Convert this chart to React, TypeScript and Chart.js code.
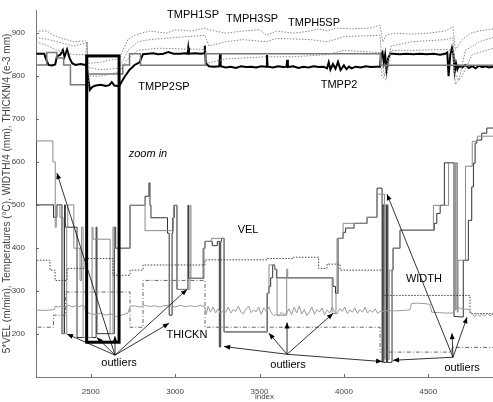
import React, { useEffect, useRef } from "react";
import { Chart, registerables } from "chart.js";
Chart.register(...registerables);

const X_MIN = 2176, X_MAX = 4883, Y_MIN = 99, Y_MAX = 954;
const X_TICKS = [2500, 3000, 3500, 4000, 4500];
const Y_TICKS = [200, 300, 400, 500, 600, 700, 800, 900];

const TMPP2: number[][] = [[2176,852],[2225,852],[2235,840],[2250,826],[2270,825],[2290,827],[2300,846],[2320,850],[2335,861],[2345,845],[2360,862],[2375,842],[2390,830],[2410,826],[2440,828],[2470,826],[2478,822],[2485,795],[2495,768],[2510,775],[2530,778],[2560,780],[2590,777],[2610,779],[2625,786],[2640,778],[2660,777],[2672,779],[2685,788],[2700,798],[2715,806],[2730,815],[2745,820],[2760,826],[2775,829],[2790,832],[2800,842],[2810,851],[2840,852],[2870,853],[2900,851],[2930,852],[2960,856],[2990,852],[3030,852],[3060,853],[3074,852],[3078,866],[3082,852],[3120,853],[3150,852],[3172,853],[3176,871],[3182,830],[3200,823],[3230,822],[3262,823],[3266,852],[3270,823],[3300,820],[3330,822],[3360,819],[3390,823],[3420,821],[3450,822],[3480,820],[3510,823],[3540,822],[3544,849],[3548,822],[3580,820],[3610,823],[3640,821],[3660,822],[3664,838],[3668,821],[3700,823],[3730,819],[3760,822],[3790,820],[3820,823],[3850,821],[3880,822],[3900,818],[3910,832],[3920,815],[3935,828],[3950,817],[3965,833],[3980,814],[4000,825],[4015,816],[4030,822],[4045,818],[4070,822],[4100,820],[4130,823],[4160,821],[4190,822],[4214,822],[4220,852],[4228,856],[4236,832],[4244,850],[4252,815],[4262,842],[4275,852],[4290,852],[4330,851],[4370,852],[4410,851],[4450,852],[4490,851],[4530,852],[4570,850],[4600,852],[4612,855],[4620,800],[4630,850],[4640,866],[4648,852],[4656,810],[4664,830],[4672,816],[4680,824],[4700,820],[4720,826],[4740,819],[4760,823],[4780,818],[4800,824],[4820,821],[4840,823],[4860,820],[4883,822]];

const TMPP2SP: number[][] = [[2176,852],[2240,826],[2300,855],[2340,842],[2380,826],[2480,780],[2690,805],[2730,826],[2795,852],[3180,825],[4216,852],[4650,825],[4883,825]];

const TMPH1SP: number[][] = [[2176,905],[2240,905],[2280,895],[2330,888],[2400,880],[2470,882],[2478,880],[2485,830],[2560,832],[2620,838],[2668,840],[2720,885],[2760,895],[2800,900],[2850,905],[2950,900],[3000,908],[3100,905],[3177,912],[3200,908],[3300,900],[3400,905],[3500,908],[3540,895],[3600,905],[3700,900],[3800,905],[3850,910],[3900,905],[3950,912],[4050,910],[4150,912],[4214,918],[4230,880],[4250,895],[4300,900],[4400,898],[4500,900],[4600,905],[4646,915],[4660,860],[4700,885],[4750,900],[4800,905],[4883,910]];

const TMPH3SP: number[][] = [[2176,890],[2250,885],[2300,880],[2400,870],[2478,878],[2485,820],[2560,815],[2668,818],[2720,860],[2780,880],[2850,885],[3000,890],[3177,895],[3200,870],[3300,880],[3400,885],[3540,880],[3600,888],[3800,885],[3900,880],[4000,892],[4214,895],[4225,830],[4240,800],[4280,870],[4400,880],[4600,885],[4646,890],[4655,810],[4680,790],[4720,860],[4800,880],[4883,890]];

const TMPH5SP: number[][] = [[2176,880],[2250,870],[2300,860],[2400,850],[2470,850],[2478,880],[2482,745],[2490,800],[2560,800],[2668,810],[2720,840],[2780,860],[2900,865],[3177,862],[3190,830],[3300,840],[3540,845],[3700,845],[3900,850],[4000,860],[4214,855],[4225,800],[4250,790],[4280,860],[4400,860],[4600,862],[4646,860],[4660,780],[4700,800],[4760,850],[4883,865]];

const VEL: number[][] = [[2176,649],[2280,500],[2300,471],[2330,500],[2345,200],[2350,500],[2419,448],[2532,191],[2537,448],[2640,200],[2648,448],[2733,399],[2822,499],[2845,520],[2851,551],[2857,499],[2955,470],[2965,434],[2982,243],[2986,434],[2995,470],[3011,499],[3076,303],[3080,499],[3170,329],[3177,399],[3220,415],[3250,405],[3262,415],[3270,169],[3274,415],[3290,422],[3546,204],[3556,294],[3566,310],[3578,330],[3590,360],[3600,350],[3935,330],[3950,310],[3965,294],[3995,422],[4010,436],[4060,446],[4137,457],[4196,471],[4226,539],[4230,133],[4236,500],[4252,133],[4258,500],[4285,133],[4291,348],[4332,399],[4535,441],[4550,457],[4570,480],[4595,499],[4652,598],[4676,240],[4707,239],[4737,371],[4757,464],[4767,542],[4777,597],[4787,644],[4816,651],[4846,667],[4865,679],[4883,679]];

const VEL_RAW: number[][] = [[2176,649],[2276,649],[2290,600],[2296,448],[2318,500],[2336,471],[2358,200],[2364,448],[2400,500],[2437,399],[2446,324],[2455,448],[2508,191],[2514,448],[2615,420],[2632,200],[2640,448],[2733,399],[2822,499],[2960,440],[2990,440],[3011,499],[3088,303],[3094,499],[3165,329],[3177,399],[3215,415],[3290,422],[3544,204],[3556,294],[3590,360],[3604,350],[3661,243],[3667,350],[3930,330],[3953,247],[3959,294],[3995,422],[4137,457],[4196,471],[4240,525],[4245,140],[4262,500],[4268,140],[4291,348],[4332,399],[4530,441],[4620,499],[4646,598],[4660,598],[4665,255],[4672,598],[4676,250],[4720,371],[4760,590],[4790,648],[4883,660]];

const WIDTH: number[][] = [[2176,324],[2259,371],[2289,348],[2360,324],[2466,352],[2632,375],[2733,336],[2810,348],[3177,360],[3544,372],[3700,375],[3850,378],[3900,352],[3977,362],[4232,348],[4747,289],[4788,247],[4883,247]];

const THICKN: number[][] = [[2176,177],[2280,215],[2350,243],[2733,297],[2810,215],[3177,324],[4214,215],[4640,157],[4700,168],[4883,168]];

const TEMP: number[][] = [[2176,255],[2230,254],[2285,256],[2290,264],[2310,262],[2330,265],[2350,261],[2370,266],[2390,262],[2410,265],[2430,263],[2450,266],[2466,262],[2470,250],[2500,247],[2530,244],[2560,248],[2590,243],[2620,246],[2650,240],[2690,244],[2720,248],[2733,263],[2760,265],[2790,262],[2820,266],[2850,263],[2880,265],[2910,262],[2940,266],[2970,264],[3000,262],[3030,266],[3060,263],[3090,265],[3120,263],[3150,266],[3177,262],[3185,245],[3195,264],[3210,250],[3225,262],[3240,248],[3255,258],[3270,246],[3285,254],[3300,250],[3315,262],[3330,248],[3345,256],[3360,252],[3375,264],[3390,250],[3405,246],[3420,258],[3435,264],[3450,249],[3465,255],[3480,251],[3495,262],[3510,245],[3525,260],[3540,252],[3555,262],[3570,248],[3585,242],[3600,245],[3615,241],[3630,250],[3645,244],[3660,247],[3675,258],[3690,244],[3705,262],[3720,248],[3735,264],[3750,246],[3765,256],[3780,242],[3795,250],[3810,262],[3825,245],[3840,256],[3855,250],[3870,260],[3885,244],[3900,255],[3915,248],[3930,262],[3945,250],[3960,246],[3975,258],[3990,252],[4005,262],[4020,247],[4035,255],[4050,250],[4065,260],[4080,247],[4095,256],[4110,250],[4125,261],[4140,248],[4155,255],[4170,250],[4185,258],[4200,247],[4214,252],[4232,252],[4260,254],[4300,253],[4390,255],[4400,270],[4430,271],[4480,270],[4510,268],[4520,250],[4560,249],[4600,248],[4646,248],[4660,262],[4700,258],[4740,256],[4760,246],[4775,240],[4790,248],[4805,240],[4820,246],[4835,241],[4850,247],[4865,242],[4883,245]];

// annotations (data coordinates)
const ZOOM_BOX = [2476, 180, 2668, 847];
const LABELS: [string, number, number, boolean][] = [
  ["TMPH1SP", 3106, 943, false], ["TMPH3SP", 3456, 933, false], ["TMPH5SP", 3823, 924, false],
  ["TMPP2SP", 2934, 775, false], ["TMPP2", 3971, 779, false], ["zoom in", 2839, 618, true],
  ["VEL", 3432, 441, false], ["THICKN", 3070, 196, false], ["WIDTH", 4474, 327, false],
  ["outliers", 2668, 131, false], ["outliers", 3669, 128, false], ["outliers", 4700, 121, false],
];
const ARROWS: number[][] = [
  [2644,150,2360,199],[2644,150,2300,574],[2644,150,2537,191],[2644,150,2644,194],[2644,150,2964,224],[2644,150,3070,303],
  [3663,152,3556,201],[3663,152,3663,226],[3663,152,3935,247],[3663,152,3290,170],[3663,152,4226,135],
  [4646,145,4291,138],[4646,145,4255,525],[4646,145,4640,201],[4646,145,4729,238],
];

const pts = (a: number[][]) => a.map(([x, y]) => ({ x, y }));

const annotPlugin = {
  id: "annot",
  afterDatasetsDraw(chart: any) {
    const { ctx, scales } = chart;
    const xs = scales.x, ys = scales.y;
    const X = (v: number) => xs.getPixelForValue(v);
    const Y = (v: number) => ys.getPixelForValue(v);
    ctx.save();
    ctx.strokeStyle = "#000";
    ctx.lineWidth = 3;
    ctx.strokeRect(X(ZOOM_BOX[0]), Y(ZOOM_BOX[3]), X(ZOOM_BOX[2]) - X(ZOOM_BOX[0]), Y(ZOOM_BOX[1]) - Y(ZOOM_BOX[3]));
    ctx.lineWidth = 0.8;
    ctx.fillStyle = "#000";
    for (const [fx, fy, tx, ty] of ARROWS) {
      const x1 = X(fx), y1 = Y(fy), x2 = X(tx), y2 = Y(ty);
      ctx.beginPath(); ctx.moveTo(x1, y1); ctx.lineTo(x2, y2); ctx.stroke();
      const ang = Math.atan2(y2 - y1, x2 - x1);
      const L = 6, W = 2.5;
      ctx.beginPath();
      ctx.moveTo(x2, y2);
      ctx.lineTo(x2 - L * Math.cos(ang) + W * Math.sin(ang), y2 - L * Math.sin(ang) - W * Math.cos(ang));
      ctx.lineTo(x2 - L * Math.cos(ang) - W * Math.sin(ang), y2 - L * Math.sin(ang) + W * Math.cos(ang));
      ctx.closePath(); ctx.fill();
    }
    ctx.textAlign = "center";
    ctx.textBaseline = "middle";
    for (const [t, lx, ly, it] of LABELS) {
      ctx.font = (it ? "italic " : "") + '11px "Liberation Sans", Arial, sans-serif';
      ctx.fillText(t, X(lx), Y(ly));
    }
    ctx.strokeStyle = "#666"; ctx.lineWidth = 1;
    const ca = chart.chartArea;
    for (const t of X_TICKS) { const px = Math.round(X(t)) + 0.5; ctx.beginPath(); ctx.moveTo(px, ca.bottom); ctx.lineTo(px, ca.bottom - 3); ctx.stroke(); }
    for (const t of Y_TICKS) { const py = Math.round(Y(t)) + 0.5; ctx.beginPath(); ctx.moveTo(ca.left, py); ctx.lineTo(ca.left + 3, py); ctx.stroke(); }
    ctx.restore();
  },
};

export default function App() {
  const ref = useRef<HTMLCanvasElement>(null);
  useEffect(() => {
    const base = { pointRadius: 0, borderWidth: 1, tension: 0, fill: false };
    const font = { size: 8, family: '"Liberation Sans", Arial' };
    const chart = new Chart(ref.current!, {
      type: "line",
      data: {
        datasets: [
          { ...base, label: "TEMP", data: pts(TEMP), borderColor: "#9a9a9a" },
          { ...base, label: "THICKN", data: pts(THICKN), borderColor: "#666", borderDash: [4, 2, 1, 2], stepped: "after" },
          { ...base, label: "WIDTH", data: pts(WIDTH), borderColor: "#444", borderDash: [1.5, 1.5], stepped: "after" },
          { ...base, label: "VEL_RAW", data: pts(VEL_RAW), borderColor: "#8a8a8a", stepped: "after" },
          { ...base, label: "VEL", data: pts(VEL), borderColor: "#333", stepped: "after" },
          { ...base, label: "TMPH1SP", data: pts(TMPH1SP), borderColor: "#888", borderDash: [1.5, 1.5] },
          { ...base, label: "TMPH3SP", data: pts(TMPH3SP), borderColor: "#888", borderDash: [1.5, 1.5] },
          { ...base, label: "TMPH5SP", data: pts(TMPH5SP), borderColor: "#888", borderDash: [1.5, 1.5] },
          { ...base, label: "TMPP2SP", data: pts(TMPP2SP), borderColor: "#777", borderWidth: 1.5, stepped: "after" },
          { ...base, label: "TMPP2", data: pts(TMPP2), borderColor: "#000", borderWidth: 2 },
        ] as any,
      },
      options: {
        animation: false,
        responsive: true,
        maintainAspectRatio: false,
        layout: { padding: { top: 10, right: 0, left: 0, bottom: 0 } },
        plugins: { legend: { display: false }, tooltip: { enabled: false } },
        scales: {
          x: {
            type: "linear", min: X_MIN, max: X_MAX,
            afterBuildTicks: (s: any) => { s.ticks = X_TICKS.map((v) => ({ value: v })); },
            afterFit: (s: any) => { s.height = 25; },
            grid: { display: false },
            border: { display: true, color: "#777" },
            ticks: { font, color: "#444", padding: 2, maxRotation: 0, callback: (v: any) => String(v) },
            title: { display: true, text: "index", font, color: "#444", padding: 0 },
          },
          y: {
            type: "linear", min: Y_MIN, max: Y_MAX,
            afterBuildTicks: (s: any) => { s.ticks = Y_TICKS.map((v) => ({ value: v })); },
            afterFit: (s: any) => { s.width = 36; },
            grid: { display: false },
            border: { display: true, color: "#777" },
            ticks: { font, color: "#444", padding: 3, callback: (v: any) => String(v) },
            title: { display: true, text: "5*VEL (m/min), Temperatures (°C), WIDTH/4 (mm), THICKN/4 (e-3 mm)", font: { size: 10, family: '"Liberation Sans", Arial' }, color: "#444", padding: 1 },
          },
        },
      },
      plugins: [annotPlugin],
    });
    return () => chart.destroy();
  }, []);
  return (
    <div style={{ position: "fixed", left: 0, top: 0, width: 493, height: 402, background: "#fff" }}>
      <canvas ref={ref} />
    </div>
  );
}
